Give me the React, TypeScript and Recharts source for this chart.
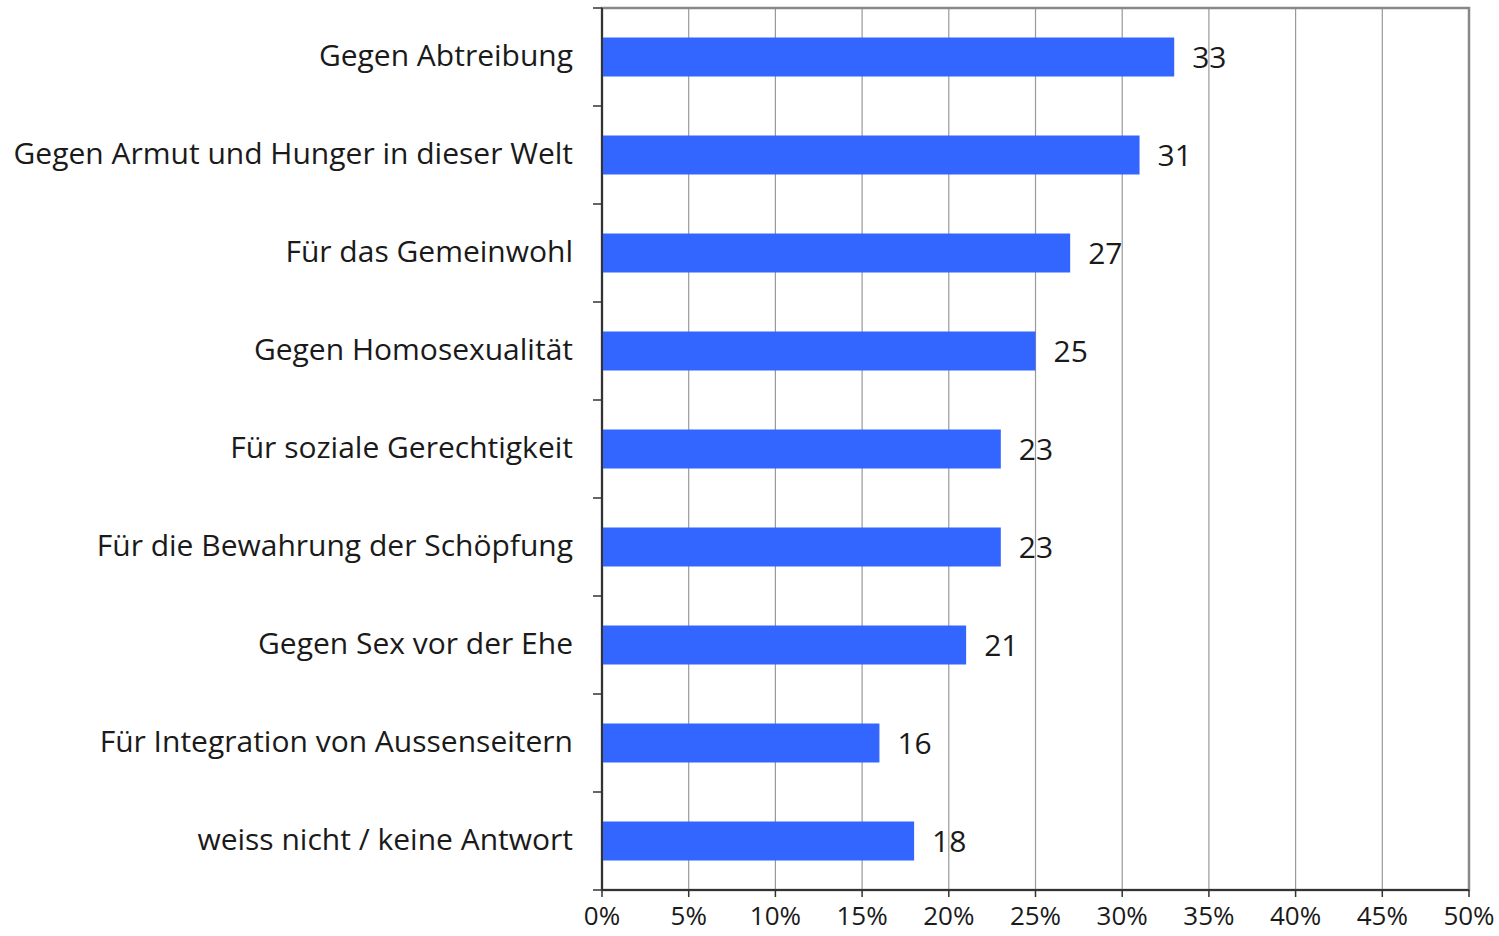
import React from "react";
import {
  BarChart,
  Bar,
  XAxis,
  YAxis,
  CartesianGrid,
  LabelList,
  ReferenceArea,
} from "recharts";

const categories = [
  "Gegen Abtreibung",
  "Gegen Armut und Hunger in dieser Welt",
  "Für das Gemeinwohl",
  "Gegen Homosexualität",
  "Für soziale Gerechtigkeit",
  "Für die Bewahrung der Schöpfung",
  "Gegen Sex vor der Ehe",
  "Für Integration von Aussenseitern",
  "weiss nicht / keine Antwort",
];
const values = [33, 31, 27, 25, 23, 23, 21, 16, 18];
const xTicks = [0, 5, 10, 15, 20, 25, 30, 35, 40, 45, 50];

const data = categories.map((c, i) => ({ name: c, value: values[i] }));

const W = 1499;
const H = 936;
const M = { top: 8, right: 30, bottom: 0, left: 0 };
const XAXIS_H = 46;
const PLOT_H = H - M.top - M.bottom - XAXIS_H;
const BAND = PLOT_H / categories.length;
const FONT = "'Open Sans', 'Noto Sans', sans-serif";

const YTick = (props: any) => {
  const { x, y, payload, index } = props;
  const axisX = x + 20;
  return (
    <g>
      <line x1={axisX - 9} x2={axisX} y1={y - BAND / 2} y2={y - BAND / 2} stroke="#333" strokeWidth={1.5} />
      {index === categories.length - 1 && (
        <line x1={axisX - 9} x2={axisX} y1={y + BAND / 2} y2={y + BAND / 2} stroke="#333" strokeWidth={1.5} />
      )}
      <text
        x={x - 9}
        y={y - 3}
        textAnchor="end"
        dominantBaseline="central"
        fontFamily={FONT}
        fontSize={30}
        fill="#1a1a1a"
      >
        {payload.value}
      </text>
    </g>
  );
};

export default function App() {
  return (
    <div style={{ position: "absolute", left: 0, top: 0, width: W, height: H, background: "#fff" }}>
      <BarChart
        width={W}
        height={H}
        data={data}
        layout="vertical"
        margin={M}
        barCategoryGap="30%"
      >
        <CartesianGrid horizontal={false} vertical={true} stroke="#999" strokeWidth={1.2} />
        <ReferenceArea x1={0} x2={50} fill="none" stroke="#888" strokeWidth={2.5} ifOverflow="visible" />
        <XAxis
          type="number"
          domain={[0, 50]}
          ticks={xTicks}
          tickFormatter={(v: number) => `${v}%`}
          height={XAXIS_H}
          axisLine={{ stroke: "#333", strokeWidth: 2 }}
          tickLine={{ stroke: "#333", strokeWidth: 1.5 }}
          tickSize={7}
          tickMargin={10}
          tick={{ fontFamily: FONT, fontSize: 26, fill: "#1a1a1a" }}
          interval={0}
        />
        <YAxis
          type="category"
          dataKey="name"
          width={602}
          axisLine={{ stroke: "#333", strokeWidth: 2 }}
          tickLine={false}
          tickSize={0}
          tickMargin={20}
          tick={<YTick />}
          interval={0}
        />
        <Bar dataKey="value" fill="#3366FF" isAnimationActive={false}>
          <LabelList
            dataKey="value"
            position="right"
            offset={18}
            style={{ fontFamily: FONT, fontSize: 30, fill: "#1a1a1a" }}
          />
        </Bar>
      </BarChart>
    </div>
  );
}
